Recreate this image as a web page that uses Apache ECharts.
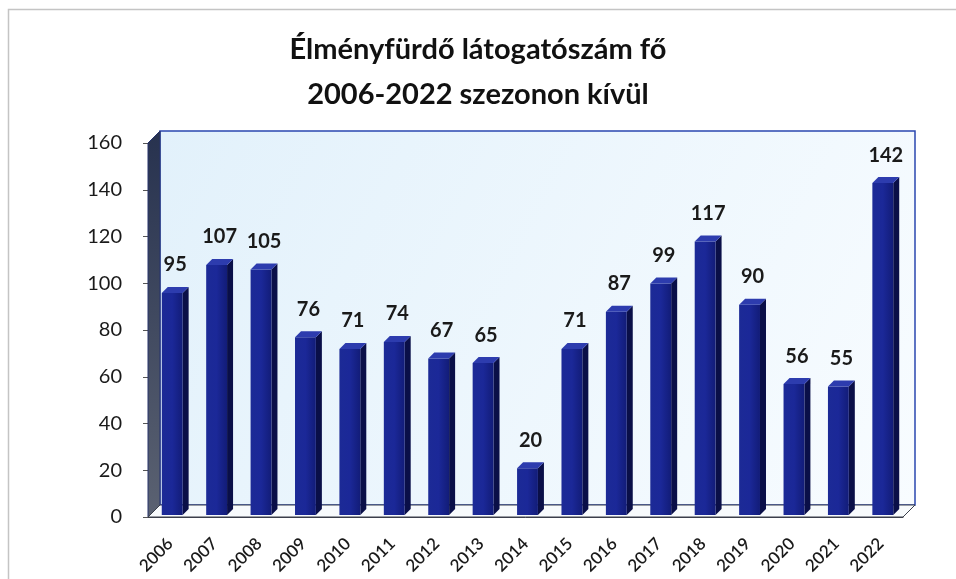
<!DOCTYPE html>
<html>
<head>
<meta charset="utf-8">
<script src="https://cdn.jsdelivr.net/npm/echarts@6/dist/echarts.min.js"></script>
<style>
  html, body { margin: 0; padding: 0; background: #fff; }
  #chart { width: 956px; height: 579px; }
</style>
</head>
<body>
<div id="chart"></div>
<script>
// data
const years = ['2006', '2007', '2008', '2009', '2010', '2011', '2012', '2013', '2014',
  '2015', '2016', '2017', '2018', '2019', '2020', '2021', '2022']
const visitors = [95, 107, 105, 76, 71, 74, 67, 65, 20, 71, 87, 99, 117, 90, 56, 55, 142]
const yMin = 0
const yMax = 160
const yStep = 20

const FONT = 'Lato, "Noto Sans", sans-serif'
const DX = 12 // depth of the 3d box
const DY = 12

const chart = echarts.init(document.getElementById('chart'))

// back wall, side wall and floor of the 3d box
const renderBox = (params) => {
  const g = params.coordSys
  const l = g.x, t = g.y, r = g.x + g.width, b = g.y + g.height
  return {
    type: 'group',
    children: [
      {
        type: 'rect',
        shape: { x: l + DX, y: t - DY, width: g.width, height: g.height },
        style: {
          fill: new echarts.graphic.LinearGradient(0, 0, 1, 1, [
            { offset: 0, color: '#e2f1fb' },
            { offset: 1, color: '#f8fcff' },
          ]),
          stroke: '#2a47b0',
          lineWidth: 1.5,
        },
      },
      {
        type: 'polygon',
        shape: { points: [[l, t], [l + DX, t - DY], [l + DX, b - DY], [l, b]] },
        style: {
          fill: new echarts.graphic.LinearGradient(0, 0, 0, 1, [
            { offset: 0, color: '#27324f' },
            { offset: 1, color: '#5b6272' },
          ]),
          stroke: '#26336a',
          lineWidth: 1,
        },
      },
      {
        type: 'polygon',
        shape: { points: [[l, b], [r, b], [r + DX, b - DY], [l + DX, b - DY]] },
        style: { fill: '#f7fafc', stroke: '#3a3f4a', lineWidth: 1 },
      },
    ],
  }
}

const renderBar = (params, api) => {
  const idx = api.value(0)
  const val = api.value(1)
  const top = api.coord([idx, val])
  const base = api.coord([idx, 0])
  const w = api.size([1, 0])[0] * 0.47
  const o = 2
  const d = 6
  const x0 = top[0] - w / 2 + o
  const x1 = x0 + w
  const yt = top[1] - o
  const yb = base[1] - o
  return {
    type: 'group',
    children: [
      {
        type: 'polygon',
        shape: { points: [[x1, yt], [x1 + d, yt - d], [x1 + d, yb - d], [x1, yb]] },
        style: { fill: '#0a0f48' },
      },
      {
        type: 'rect',
        shape: { x: x0, y: yt, width: w, height: yb - yt },
        style: {
          fill: new echarts.graphic.LinearGradient(0, 0, 1, 0, [
            { offset: 0, color: '#1c2a96' },
            { offset: 0.5, color: '#1b2898' },
            { offset: 1, color: '#121c78' },
          ]),
        },
      },
      {
        type: 'polygon',
        shape: { points: [[x0, yt], [x0 + d, yt - d], [x1 + d, yt - d], [x1, yt]] },
        style: { fill: '#2d3cae' },
      },
      {
        type: 'text',
        style: {
          text: String(val),
          x: (x0 + x1 + d) / 2,
          y: yt - d - 12,
          align: 'center',
          verticalAlign: 'bottom',
          fill: '#1a1a1a',
          font: 'bold 20px ' + FONT,
        },
      },
    ],
  }
}

chart.setOption({
  backgroundColor: '#ffffff',
  title: {
    text: 'Élményfürdő látogatószám fő\n2006-2022 szezonon kívül',
    left: 'center',
    top: 22,
    textStyle: {
      fontFamily: FONT,
      fontSize: 29,
      fontWeight: 'bold',
      color: '#111',
      lineHeight: 45,
    },
  },
  graphic: [
    {
      type: 'polyline',
      shape: { points: [[8.5, 579], [8.5, 9.5], [956, 9.5]] },
      style: { fill: 'none', stroke: '#c4c4c4', lineWidth: 1.5 },
      silent: true,
    },
  ],
  grid: { left: 148, right: 53, top: 143, bottom: 62 },
  xAxis: {
    type: 'category',
    data: years,
    axisLine: { show: true, lineStyle: { color: '#3a3f4a', width: 1 } },
    axisTick: { show: false },
    axisLabel: {
      rotate: 45,
      margin: 24,
      interval: 0,
      fontFamily: FONT,
      fontSize: 17,
      fontWeight: 600,
      color: '#1a1a1a',
    },
    splitLine: { show: false },
  },
  yAxis: {
    type: 'value',
    min: yMin,
    max: yMax,
    interval: yStep,
    axisLine: { show: false },
    axisTick: { show: true, length: 5, lineStyle: { color: '#555' } },
    axisLabel: {
      margin: 26,
      fontFamily: FONT,
      fontSize: 20,
      color: '#1a1a1a',
    },
    splitLine: { show: false },
  },
  series: [
    {
      type: 'custom',
      silent: true,
      z: 1,
      renderItem: renderBox,
      data: [[0, 0]],
    },
    {
      type: 'custom',
      z: 3,
      renderItem: renderBar,
      data: visitors.map((v, i) => [i, v]),
    },
  ],
})
</script>
</body>
</html>
